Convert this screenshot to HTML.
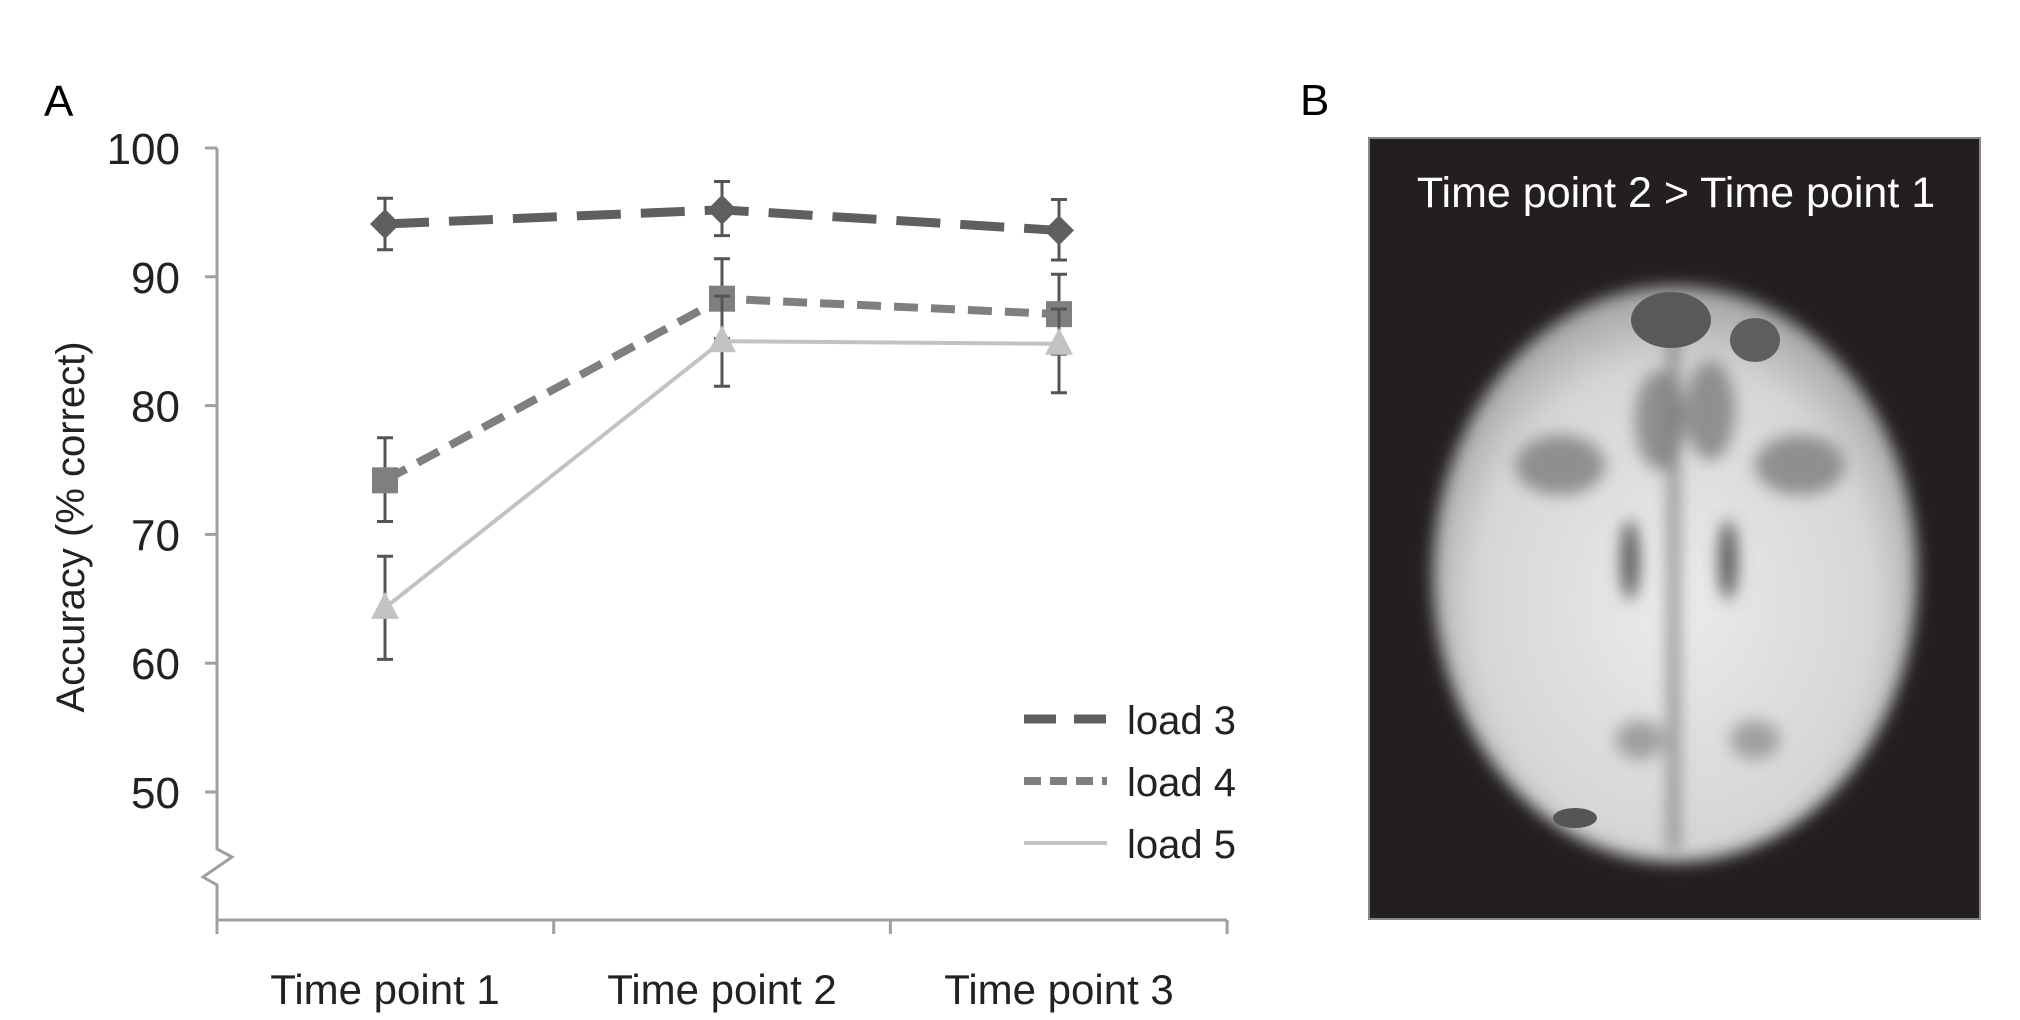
<!DOCTYPE html>
<html><head><meta charset="utf-8"><style>
html,body{margin:0;padding:0;background:#fff;width:2020px;height:1020px;overflow:hidden}
text{font-family:"Liberation Sans",sans-serif}
</style></head><body>
<svg id="chart" width="2020" height="1020" viewBox="0 0 2020 1020" xmlns="http://www.w3.org/2000/svg">
<defs>
<radialGradient id="bg" cx="50%" cy="55%" r="55%">
<stop offset="0" stop-color="#ebebeb"/><stop offset="0.75" stop-color="#d6d6d6"/><stop offset="1" stop-color="#a0a0a0"/>
</radialGradient>
<filter id="blur"><feGaussianBlur stdDeviation="8"/></filter>
</defs>
<text x="44" y="116" font-size="44">A</text>
<g id="axes"></g>
<g id="series"></g>
<g id="legend"></g>
<text x="1300" y="115" font-size="44">B</text>
<g>
<rect x="1369" y="138" width="611" height="781" fill="#231f20" stroke="#888" stroke-width="2"/>
<text x="1676" y="207" font-size="43" fill="#fff" text-anchor="middle">Time point 2 &gt; Time point 1</text>
<g>
<ellipse cx="1675" cy="574" rx="242" ry="288" fill="url(#bg)" filter="url(#blur)"/>
<g filter="url(#blur)" fill="#8f8f8f">
<ellipse cx="1560" cy="465" rx="45" ry="30"/><ellipse cx="1800" cy="465" rx="45" ry="30"/>
<ellipse cx="1660" cy="420" rx="25" ry="50"/><ellipse cx="1710" cy="410" rx="25" ry="50"/>
<ellipse cx="1630" cy="560" rx="9" ry="40" fill="#555"/><ellipse cx="1728" cy="560" rx="9" ry="40" fill="#555"/>
<rect x="1669" y="330" width="9" height="520" fill="#777"/>
<ellipse cx="1640" cy="740" rx="25" ry="20" fill="#a0a0a0"/><ellipse cx="1755" cy="740" rx="25" ry="20" fill="#a0a0a0"/>
</g>
<ellipse cx="1671" cy="320" rx="40" ry="28" fill="#595959"/>
<ellipse cx="1755" cy="340" rx="25" ry="22" fill="#5e5e5e"/>
<ellipse cx="1575" cy="818" rx="22" ry="10" fill="#555"/>
</g>
</g>
<script>
var categories=["Time point 1","Time point 2","Time point 3"];
var yTicks=[50,60,70,80,90,100];
var load3=[94.1,95.2,93.6];
var load3Hi=[96.1,97.4,96.0];
var load3Lo=[92.1,93.2,91.3];
var load4=[74.2,88.3,87.1];
var load4Hi=[77.5,91.4,90.2];
var load4Lo=[71.0,85.2,84.0];
var load5=[64.3,85.0,84.8];
var load5Hi=[68.3,88.5,87.5];
var load5Lo=[60.3,81.5,81.0];
var seriesNames=["load 3","load 4","load 5"];
var NS="http://www.w3.org/2000/svg";
function y(v){return 148+(100-v)*12.88;}
function x(i){return 385+i*337;}
function el(t,a,p){var e=document.createElementNS(NS,t);for(var k in a)e.setAttribute(k,a[k]);p.appendChild(e);return e;}
var ax=document.getElementById('axes');
var axc="#a0a0a0";
var yl=el('path',{d:"M217 148 V849 L232 857 L203 877 L217 885 V920 H1227",fill:"none",stroke:axc,"stroke-width":3},ax);


yTicks.forEach(function(t){
 var l=el('line',{x1:205,x2:217,y1:y(t),y2:y(t),stroke:axc,"stroke-width":3},ax);
 
 
 var tx=el('text',{x:180,y:y(t)+16,"font-size":44,"text-anchor":"end",fill:"#222"},ax);
 tx.textContent=t;
 
 
});
for(var i=0;i<4;i++){
 var l=el('line',{x1:217+i*336.7,x2:217+i*336.7,y1:920,y2:934,stroke:axc,"stroke-width":3},ax);
 
 
}
categories.forEach(function(c,i){
 var tx=el('text',{x:x(i),y:1004,"font-size":42,"text-anchor":"middle",fill:"#222"},ax);
 tx.textContent=c;
 
 
});
var yt=el('text',{x:0,y:0,"font-size":40,"text-anchor":"middle",fill:"#222",transform:"translate(84,527) rotate(-90)"},ax);
yt.textContent="Accuracy (% correct)";


var sg=document.getElementById('series');
var defs=[
 {v:load3,hi:load3Hi,lo:load3Lo,c:"#5f5f5f",w:9,d:"44 20",m:"diamond"},
 {v:load4,hi:load4Hi,lo:load4Lo,c:"#7f7f7f",w:8,d:"24 13",m:"square"},
 {v:load5,hi:load5Hi,lo:load5Lo,c:"#c2c2c2",w:4,d:"none",m:"triangle"}];
defs.forEach(function(s,k){
 var g=el('g',{},sg);
 
 
 s.v.forEach(function(v,i){
  var e=el('path',{d:"M"+x(i)+" "+y(s.hi[i])+" V"+y(s.lo[i])+" M"+(x(i)-8)+" "+y(s.hi[i])+" h16 M"+(x(i)-8)+" "+y(s.lo[i])+" h16",stroke:"#555","stroke-width":3,fill:"none"},g);
  
  
 });
 var pts=s.v.map(function(v,i){return x(i)+","+y(v);}).join(" ");
 var pl=el('polyline',{points:pts,fill:"none",stroke:s.c,"stroke-width":s.w,"stroke-dasharray":s.d},g);
 
 
 s.v.forEach(function(v,i){
  var cx=x(i),cy=y(v),m;
  if(s.m=="diamond")m=el('path',{d:"M"+cx+" "+(cy-15)+" L"+(cx+15)+" "+cy+" L"+cx+" "+(cy+15)+" L"+(cx-15)+" "+cy+"Z",fill:s.c},g);
  else if(s.m=="square")m=el('rect',{x:cx-13,y:cy-13,width:26,height:26,fill:s.c},g);
  else m=el('path',{d:"M"+cx+" "+(cy-16)+" L"+(cx+14)+" "+(cy+11)+" L"+(cx-14)+" "+(cy+11)+"Z",fill:s.c},g);
  
  
 });
});
var lg=document.getElementById('legend');
defs.forEach(function(s,k){
 var ly=719+k*62;
 var l=el('line',{x1:1024,x2:1107,y1:ly,y2:ly,stroke:s.c,"stroke-width":s.w,"stroke-dasharray":k==0?"32 18":(k==1?"17 9":"none")},lg);
 
 
 var t=el('text',{x:1127,y:ly+15,"font-size":40,fill:"#222"},lg);
 t.textContent=seriesNames[k];
 
 
});
</script>
</svg>
</body></html>
